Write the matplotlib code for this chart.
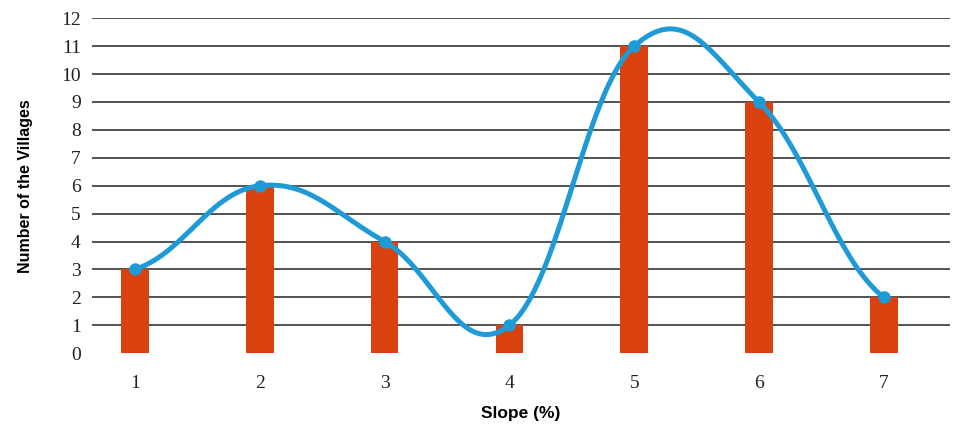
import numpy as np
import matplotlib
matplotlib.use("Agg")
from matplotlib import pyplot as plt

slope = [1, 2, 3, 4, 5, 6, 7]
villages = [3, 6, 4, 1, 11, 9, 2]
yticks = list(range(0, 13))


def smooth(x, y, k=0.6, n=60):
    # hermite curve through the points, like a spreadsheet "smoothed line"
    x = np.asarray(x, float)
    y = np.asarray(y, float)
    px = np.concatenate([[2 * x[0] - x[1]], x, [2 * x[-1] - x[-2]]])
    py = np.concatenate([[y[0]], y, [y[-1]]])
    t = np.linspace(0, 1, n)
    h00 = 2 * t ** 3 - 3 * t ** 2 + 1
    h10 = t ** 3 - 2 * t ** 2 + t
    h01 = -2 * t ** 3 + 3 * t ** 2
    h11 = t ** 3 - t ** 2
    xs, ys = [], []
    for i in range(1, len(px) - 2):
        for p, out in ((px, xs), (py, ys)):
            m1 = k * (p[i + 1] - p[i - 1])
            m2 = k * (p[i + 2] - p[i])
            out.append(h00 * p[i] + h10 * m1 + h01 * p[i + 1] + h11 * m2)
    return np.concatenate(xs), np.concatenate(ys)


fig = plt.figure(figsize=(9.64, 4.25), dpi=100)
ax = fig.add_axes([0.0954, 0.169, 0.89, 0.788])

for v in yticks[1:]:
    ax.axhline(v, color="#444444", lw=1.3, zorder=1)

ax.bar(slope, villages, width=0.22, color="#D9410E", zorder=2)

sx, sy = smooth(slope, villages)
ax.plot(sx, sy, color="#1E9BD7", lw=3.6, zorder=3, clip_on=False)
ax.plot(slope, villages, "o", color="#1E9BD7", ms=8, zorder=4, clip_on=False)

ax.set_xlim(0.655, 7.53)
ax.set_ylim(0, 12)
ax.set_xticks(slope)
ax.set_yticks(yticks)
ax.tick_params(length=0, labelsize=14, pad=8)
for lab in ax.get_xticklabels() + ax.get_yticklabels():
    lab.set_family("Liberation Serif")
    lab.set_color("#222222")
ax.tick_params(axis="x", pad=16)
for s in ax.spines.values():
    s.set_visible(False)

ax.set_xlabel("Slope (%)", family="Liberation Sans", fontweight="bold", fontsize=12.5, labelpad=10)
ax.set_ylabel("Number of the Villages", family="Liberation Sans", fontweight="bold", fontsize=11.5, labelpad=20)

fig.savefig("out.png", dpi=100)
